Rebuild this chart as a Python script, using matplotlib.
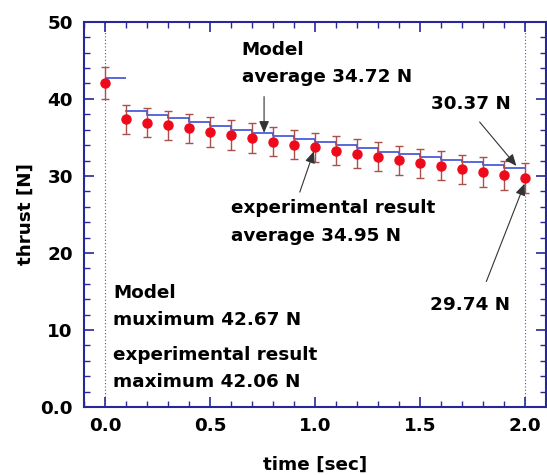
import matplotlib
matplotlib.use("Agg")
import matplotlib.pyplot as plt
from matplotlib.ticker import MultipleLocator, FixedFormatter, FixedLocator

plt.rcParams["font.family"] = ["DejaVu Sans"]
plt.rcParams["font.weight"] = "bold"

# ---- data
t_exp = [0.0, 0.1, 0.2, 0.3, 0.4, 0.5, 0.6, 0.7, 0.8, 0.9, 1.0,
         1.1, 1.2, 1.3, 1.4, 1.5, 1.6, 1.7, 1.8, 1.9, 2.0]
thrust_exp = [42.06, 37.37, 36.90, 36.55, 36.16, 35.69, 35.30, 34.91, 34.43, 34.04, 33.70,
              33.26, 32.87, 32.49, 32.05, 31.66, 31.32, 30.84, 30.50, 30.06, 29.74]
err_exp = [2.1, 1.9, 1.9, 1.9, 1.9, 1.9, 1.9, 1.9, 1.9, 1.9, 1.9,
           1.9, 1.9, 1.9, 1.9, 1.9, 1.9, 1.9, 1.9, 1.9, 1.9]

# model: piecewise-constant, one level per 0.1 s interval
t_model = [0.0, 0.1, 0.2, 0.3, 0.4, 0.5, 0.6, 0.7, 0.8, 0.9,
           1.0, 1.1, 1.2, 1.3, 1.4, 1.5, 1.6, 1.7, 1.8, 1.9]
thrust_model = [42.67, 38.41, 37.94, 37.46, 36.94, 36.47, 35.99, 35.56, 35.17, 34.74,
                34.35, 33.96, 33.57, 33.13, 32.79, 32.44, 32.10, 31.75, 31.40, 31.06]
dt = 0.1

xticks = [0.0, 0.5, 1.0, 1.5, 2.0]
xtick_labels = ["0.0", "0.5", "1.0", "1.5", "2.0"]
yticks = [0, 10, 20, 30, 40, 50]
ytick_labels = ["0.0", "10", "20", "30", "40", "50"]

NAVY = "#27279a"
BLUE = "#3a4fd8"
RED = "#ee0a1a"
ERR = "#a8504a"
FS = 13.2

fig = plt.figure(figsize=(5.47, 4.75), dpi=100)
ax = fig.add_axes([0.1536, 0.143, 0.845, 0.811])

# dotted boundaries at start/end of the burn
for xv in (t_exp[0], t_exp[-1]):
    ax.axvline(xv, color=BLUE, ls=(0, (1, 2)), lw=0.8, zorder=1)

# model steps: first one on its own, then a connected staircase
ax.hlines(thrust_model[0], t_model[0], t_model[0] + dt, color=BLUE, lw=1.2, zorder=2)
xs, ys = [], []
for t0, v in zip(t_model[1:], thrust_model[1:]):
    xs += [t0, t0 + dt]
    ys += [v, v]
ax.plot(xs, ys, color=BLUE, lw=1.2, zorder=2)

ax.errorbar(t_exp, thrust_exp, yerr=err_exp, fmt="o", color=RED, ms=6.5,
            ecolor=ERR, elinewidth=1.0, capsize=3, capthick=1.0, zorder=3)

ax.set_xlim(-0.1, 2.1)
ax.set_ylim(0, 50)
ax.xaxis.set_major_locator(FixedLocator(xticks))
ax.xaxis.set_major_formatter(FixedFormatter(xtick_labels))
ax.xaxis.set_minor_locator(MultipleLocator(0.1))
ax.yaxis.set_major_locator(FixedLocator(yticks))
ax.yaxis.set_major_formatter(FixedFormatter(ytick_labels))
ax.yaxis.set_minor_locator(MultipleLocator(2))

ax.tick_params(which="both", direction="in", top=True, right=True, color=NAVY,
               labelsize=FS)
ax.tick_params(which="major", length=7, width=1.2)
ax.tick_params(axis="y", which="major", pad=8)
ax.tick_params(axis="x", which="major", pad=7)
ax.tick_params(which="minor", length=4, width=1.0)
for sp in ax.spines.values():
    sp.set_color(NAVY)
    sp.set_linewidth(1.5)

ax.set_xlabel("time [sec]", fontsize=FS, fontweight="bold", labelpad=15)
ax.set_ylabel("thrust [N]", fontsize=FS, fontweight="bold", labelpad=4)

ax.text(0.65, 46.3, "Model", fontsize=FS, va="center", ha="left")
ax.text(0.65, 42.9, "average 34.72 N", fontsize=FS, va="center", ha="left")
ax.text(0.60, 25.8, "experimental result", fontsize=FS, va="center", ha="left")
ax.text(0.60, 22.2, "average 34.95 N", fontsize=FS, va="center", ha="left")
ax.text(1.553, 39.3, "30.37 N", fontsize=FS, va="center", ha="left")
ax.text(1.545, 13.2, "29.74 N", fontsize=FS, va="center", ha="left")
ax.text(0.04, 14.75, "Model", fontsize=FS, va="center", ha="left")
ax.text(0.04, 11.3, "muximum 42.67 N", fontsize=FS, va="center", ha="left")
ax.text(0.04, 6.75, "experimental result", fontsize=FS, va="center", ha="left")
ax.text(0.04, 3.2, "maximum 42.06 N", fontsize=FS, va="center", ha="left")

arrow = dict(arrowstyle="-|>,head_length=0.7,head_width=0.3", color="#333333",
             lw=0.8, shrinkA=0, shrinkB=0)
ax.annotate("", xy=(0.757, 35.6), xytext=(0.757, 40.3), arrowprops=arrow)
ax.annotate("", xy=(1.958, 31.3), xytext=(1.783, 37.0), arrowprops=arrow)
ax.annotate("", xy=(0.994, 33.2), xytext=(0.927, 27.9), arrowprops=arrow)
ax.annotate("", xy=(1.997, 29.0), xytext=(1.815, 16.3), arrowprops=arrow)

fig.savefig("out.png", dpi=100)
